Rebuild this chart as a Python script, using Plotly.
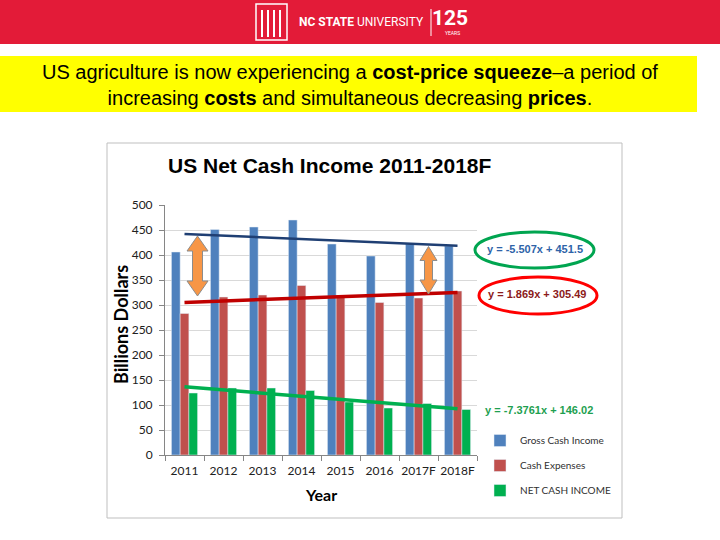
import numpy as np
import plotly.graph_objects as go

# ---------------- Data ----------------
years = ["2011", "2012", "2013", "2014", "2015", "2016", "2017F", "2018F"]
gross_cash_income = [406, 451, 456, 470, 422, 398, 422, 418]
cash_expenses = [283, 316, 320, 339, 316, 305, 314, 328]
net_cash_income = [124, 134, 134, 129, 106, 94, 103, 91]

eq_gross = "y = -5.507x + 451.5"
eq_expenses = "y = 1.869x + 305.49"
eq_net = "y = -7.3761x + 146.02"

W, H = 720, 540


def px(x):
    return x / W


def py(y):
    return 1 - y / H


def trend(values):
    # linear trendline over category index, like Excel does
    idx = np.arange(1, len(values) + 1)
    slope, intercept = np.polyfit(idx, values, 1)
    return slope * idx + intercept


fig = go.Figure()

# ---------------- Bars ----------------
series = [
    ("Gross Cash Income", gross_cash_income, "#4F81BD"),
    ("Cash Expenses", cash_expenses, "#C0504D"),
    ("NET CASH INCOME", net_cash_income, "#00B050"),
]
for name, vals, color in series:
    fig.add_trace(go.Bar(
        x=years, y=vals, name=name, marker_color=color,
        legendgroup=name,
    ))

# ---------------- Trendlines ----------------
trend_styles = [
    (gross_cash_income, "#1F3F73", 2.5),
    (cash_expenses, "#C00000", 3.5),
    (net_cash_income, "#00B050", 3.5),
]
for vals, color, width in trend_styles:
    fig.add_trace(go.Scatter(
        x=years, y=trend(vals), mode="lines",
        line=dict(color=color, width=width), showlegend=False,
        hoverinfo="skip",
    ))

fig.update_layout(
    width=W, height=H,
    margin=dict(l=0, r=0, t=0, b=0, autoexpand=False),
    paper_bgcolor="white",
    plot_bgcolor="white",
    barmode="group",
    bargap=0.33,
    bargroupgap=0,
    font=dict(family="Lato, Arial", color="#404040"),
    xaxis=dict(
        domain=[px(165), px(477)],
        automargin=False,
        showline=True, linecolor="#868686", linewidth=1,
        ticks="outside", tickson="boundaries", ticklen=5, tickcolor="#868686",
        ticklabelstandoff=5,
        tickfont=dict(size=12, color="#202020"),
        tickangle=0,
        showgrid=False,
    ),
    yaxis=dict(
        domain=[py(455), py(205)],
        automargin=False,
        range=[0, 500], dtick=50,
        showline=True, linecolor="#868686", linewidth=1,
        ticks="outside", ticklen=5, tickcolor="#868686",
        ticklabelstandoff=4,
        tickfont=dict(size=12, color="#202020"),
        showgrid=True, gridcolor="#D9D9D9", gridwidth=1,
        zeroline=False,
    ),
    legend=dict(
        x=px(480), y=py(426), xanchor="left", yanchor="top",
        font=dict(size=10, color="#303030"),
        tracegroupgap=6, itemwidth=30,
        bgcolor="rgba(0,0,0,0)",
    ),
)

shapes = []
# red banner
shapes.append(dict(type="rect", xref="paper", yref="paper",
                   x0=0, x1=1, y0=py(44), y1=1,
                   fillcolor="#E31B38", line_width=0, layer="below"))
# yellow box
shapes.append(dict(type="rect", xref="paper", yref="paper",
                   x0=0, x1=px(697), y0=py(112), y1=py(56),
                   fillcolor="#FFFF00", line_width=0, layer="below"))
# chart frame
shapes.append(dict(type="rect", xref="paper", yref="paper",
                   x0=px(107), x1=px(622), y0=py(518), y1=py(143),
                   line=dict(color="#BFBFBF", width=1), layer="below"))
# logo outline
shapes.append(dict(type="rect", xref="paper", yref="paper",
                   x0=px(256), x1=px(287), y0=py(40), y1=py(4),
                   line=dict(color="white", width=1.5)))
for lx in [262, 268, 274, 280]:
    shapes.append(dict(type="line", xref="paper", yref="paper",
                       x0=px(lx), x1=px(lx), y0=py(37), y1=py(10),
                       line=dict(color="white", width=2)))
# separator in logo
shapes.append(dict(type="line", xref="paper", yref="paper",
                   x0=px(431), x1=px(431), y0=py(36), y1=py(9),
                   line=dict(color="white", width=1)))

# ellipses around equations
shapes.append(dict(type="circle", xref="paper", yref="paper",
                   x0=px(475), x1=px(594), y0=py(268), y1=py(232),
                   line=dict(color="#00A550", width=3)))
shapes.append(dict(type="circle", xref="paper", yref="paper",
                   x0=px(479), x1=px(597), y0=py(314), y1=py(277),
                   line=dict(color="#FF0000", width=3)))


def double_arrow(cx, top, bottom, half_head, half_shaft, head_len):
    x = [cx - half_head, cx - half_shaft, cx + half_shaft, cx + half_head]
    x = [px(v) for v in x]
    path = (
        f"M {px(cx)},{top} "
        f"L {x[3]},{top - head_len} L {x[2]},{top - head_len} "
        f"L {x[2]},{bottom + head_len} L {x[3]},{bottom + head_len} "
        f"L {px(cx)},{bottom} "
        f"L {x[0]},{bottom + head_len} L {x[1]},{bottom + head_len} "
        f"L {x[1]},{top - head_len} L {x[0]},{top - head_len} Z"
    )
    return dict(type="path", xref="paper", yref="y", path=path,
                fillcolor="#F79646", line=dict(color="#8C8C8C", width=1))


shapes.append(double_arrow(197.5, 438, 318, 10.5, 5, 30))
shapes.append(double_arrow(428.5, 417, 322, 8.5, 4, 28))

fig.update_layout(shapes=shapes)


def note(text, x, y, size, color, family="Liberation Sans, Arial",
         xanchor="center", **kw):
    return dict(text=text, x=px(x), y=py(y), xref="paper", yref="paper",
                xanchor=xanchor, yanchor="middle", showarrow=False,
                font=dict(family=family, size=size, color=color), **kw)


annotations = [
    note("<b>NC STATE</b> UNIVERSITY", 297, 22, 12, "white",
         family="Roboto, Arial", xanchor="left"),
    note("<b>125</b>", 450, 18, 21, "white",
         family="Liberation Sans Narrow, Roboto"),
    note("YEARS", 452, 33, 5, "white", family="Roboto, Arial"),
    note("US agriculture is now experiencing a <b>cost-price squeeze</b>–a period of"
         "<br>increasing <b>costs</b> and simultaneous decreasing <b>prices</b>.",
         350, 85, 20, "black"),
    note("<b>US Net Cash Income 2011-2018F</b>", 166, 166, 21, "black",
         xanchor="left"),
    note("<b>Billions Dollars</b>", 121, 325, 18, "black",
         family="Lato, Arial", textangle=-90),
    note("<b>Year</b>", 321, 494, 16, "black", family="Lato, Arial"),
    note(f"<b>{eq_gross}</b>", 535, 249, 11, "#2E63A8"),
    note(f"<b>{eq_expenses}</b>", 537, 294, 11, "#8B1A1A"),
    note(f"<b>{eq_net}</b>", 539, 410, 11, "#1E9F50"),
]
fig.update_layout(annotations=annotations)

page_fix = "document.body.style.margin='0';"
fig.write_html("out.html", config={"displayModeBar": False},
               post_script=page_fix)
